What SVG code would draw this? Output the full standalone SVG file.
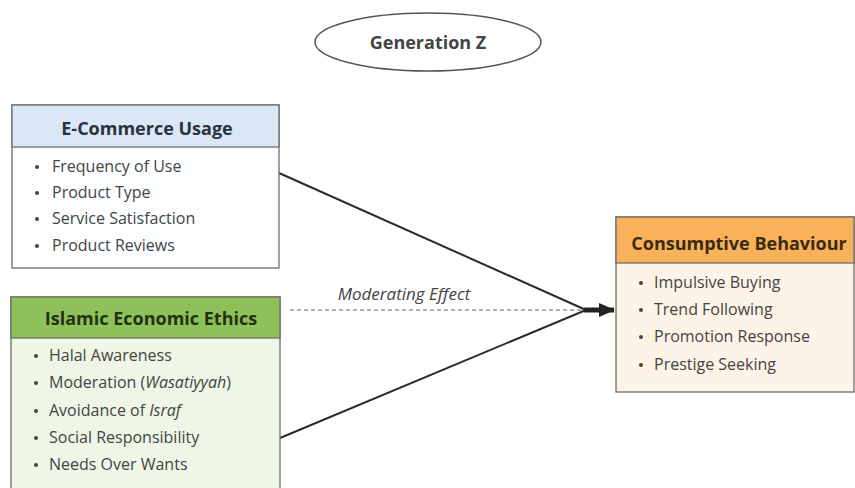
<svg xmlns="http://www.w3.org/2000/svg" width="855" height="488" viewBox="0 0 855 488">
<defs>
<style>
.box{stroke:#6e6e6e;stroke-width:1.3}
.hd{font-family:"Open Sans","Noto Sans",sans-serif;font-weight:bold;font-size:18px;text-anchor:middle}
.it{font-family:"Open Sans","Noto Sans",sans-serif;font-size:16px;fill:#444}
.bl{fill:#444}
.ln{stroke:#2b2b2b;stroke-width:2;fill:none}
</style>
<marker id="ah" viewBox="0 0 16 14" refX="15" refY="7" markerWidth="16" markerHeight="14" orient="auto" markerUnits="userSpaceOnUse">
<path d="M0,0 L16,7 L0,14 Z" fill="#222"/>
</marker>
</defs>
<rect width="855" height="488" fill="#ffffff"/>
<g id="connectors">
<line class="ln" x1="279" y1="173" x2="586" y2="310"/>
<line class="ln" x1="280" y1="438" x2="586" y2="310"/>
<line x1="290" y1="310" x2="584" y2="310" stroke="#999" stroke-width="1.5" stroke-dasharray="4,3"/>
<line x1="584" y1="310" x2="614" y2="310" stroke="#222" stroke-width="5" marker-end="url(#ah)"/>
<text x="404" y="300" text-anchor="middle" font-family="'Open Sans','Noto Sans',sans-serif" font-style="italic" font-size="17px" fill="#444">Moderating Effect</text>
</g>
<g id="generation-z">
<ellipse cx="428" cy="42" rx="113" ry="29" fill="#fff" stroke="#555" stroke-width="1.5"/>
<text x="428" y="49" class="hd" font-size="20px" fill="#444">Generation Z</text>
</g>
<g id="e-commerce-usage">
<rect class="box" x="12" y="105" width="267" height="163" fill="#fbfdff"/>
<rect class="box" x="12" y="105" width="267" height="42" fill="#dae8f5"/>
<text x="147" y="135" class="hd" fill="#2a3340">E-Commerce Usage</text>
<circle class="bl" cx="37" cy="167" r="2"/><text class="it" x="52" y="172">Frequency of Use</text>
<circle class="bl" cx="37" cy="193" r="2"/><text class="it" x="52" y="198">Product Type</text>
<circle class="bl" cx="37" cy="219" r="2"/><text class="it" x="52" y="224">Service Satisfaction</text>
<circle class="bl" cx="37" cy="246" r="2"/><text class="it" x="52" y="251">Product Reviews</text>
</g>
<g id="islamic-economic-ethics">
<rect class="box" x="11" y="297" width="269" height="200" fill="#eef6e6"/>
<rect class="box" x="11" y="297" width="269" height="41" fill="#8fc15a"/>
<text x="151" y="325" class="hd" fill="#1f3314">Islamic Economic Ethics</text>
<circle class="bl" cx="36" cy="356" r="2"/><text class="it" x="49" y="361">Halal Awareness</text>
<circle class="bl" cx="36" cy="383" r="2"/><text class="it" x="49" y="388">Moderation (<tspan font-style="italic">Wasatiyyah</tspan>)</text>
<circle class="bl" cx="36" cy="411" r="2"/><text class="it" x="49" y="416">Avoidance of <tspan font-style="italic">Israf</tspan></text>
<circle class="bl" cx="36" cy="438" r="2"/><text class="it" x="49" y="443">Social Responsibility</text>
<circle class="bl" cx="36" cy="465" r="2"/><text class="it" x="49" y="470">Needs Over Wants</text>
</g>
<g id="consumptive-behaviour">
<rect class="box" x="616" y="217" width="238" height="175" fill="#fdf3e7"/>
<rect class="box" x="616" y="217" width="238" height="46" fill="#f9b25a"/>
<text x="739" y="250" class="hd" fill="#3a2a10">Consumptive Behaviour</text>
<circle class="bl" cx="641" cy="283" r="2"/><text class="it" x="654" y="288">Impulsive Buying</text>
<circle class="bl" cx="641" cy="310" r="2"/><text class="it" x="654" y="315">Trend Following</text>
<circle class="bl" cx="641" cy="337" r="2"/><text class="it" x="654" y="342">Promotion Response</text>
<circle class="bl" cx="641" cy="365" r="2"/><text class="it" x="654" y="370">Prestige Seeking</text>
</g>
</svg>
